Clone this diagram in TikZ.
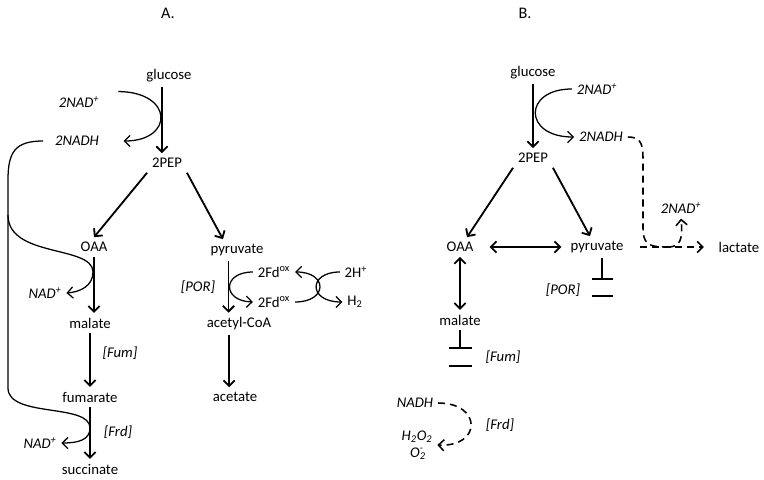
\documentclass[tikz,border=0pt]{standalone}
\usepackage{fontspec}
\setmainfont{Carlito}
\usetikzlibrary{arrows.meta}

\begin{document}
\begin{tikzpicture}[x=0.25mm, y=-0.25mm, >={Straight Barb[length=4pt,width=8pt]},
	font=\fontsize{10.5}{12}\selectfont,
	head/.style={font=\fontsize{11.5}{13}\selectfont},
	enz/.style={font=\fontsize{10.5}{12}\selectfont\itshape},
	rx/.style={->, line width=1.3pt},
	cof/.style={->, line width=0.9pt},
	dsh/.style={->, line width=1.1pt, dash pattern=on 5pt off 3.5pt},
	tee/.style={line width=1.4pt}]
	\useasboundingbox (0,0) rectangle (764,480);

	\node (TitA)	at (168, 13)	[head]	{A.};
	\node (GluA)	at (169, 76)		{glucose};
	\node (PepA)	at (167,163)		{2PEP};
	\node (NadA)	at ( 79,102)	[enz]	{2NAD\textsuperscript{+}};
	\node (NadhA)	at ( 77,141)	[enz]	{2NADH};
	\node (OaaA)	at ( 94,247)		{OAA};
	\node (NadB)	at ( 45,293)	[enz]	{NAD\textsuperscript{+}};
	\node (MalA)	at ( 90,323)		{malate};
	\node (FumA)	at ( 90,397)		{fumarate};
	\node (SucA)	at ( 90,469)		{succinate};
	\node (NadC)	at ( 40,443)	[enz]	{NAD\textsuperscript{+}};
	\node (FumEA)	at (120,353)	[enz]	{[Fum]};
	\node (FrdEA)	at (118,432)	[enz]	{[Frd]};
	\node (PyrA)	at (237,250)		{pyruvate};
	\node (AcoA)	at (239,324)		{acetyl-CoA};
	\node (AceA)	at (235,397)		{acetate};
	\node (PorEA)	at (198,287)	[enz]	{[POR]};
	\node (FdA)	at (274,272)		{2Fd\textsuperscript{ox}};
	\node (FdB)	at (274,302)		{2Fd\textsuperscript{ox}};
	\node (HA)	at (356,272)		{2H\textsuperscript{+}};
	\node (HtwoA)	at (355,302)		{H\textsubscript{2}};

	\draw[rx] ([xshift=-5pt]GluA.south) -- ([xshift=-5pt]GluA.south |- PepA.north);
	\draw[rx] (PepA.south west) -- (OaaA.north);
	\draw[rx] (PepA.south east) -- ([xshift=-10pt]PyrA.north);
	\draw[rx] (OaaA.south) -- (OaaA.south |- MalA.north);
	\draw[rx] (MalA.south) -- (MalA.south |- FumA.north);
	\draw[rx] (FumA.south) -- (FumA.south |- SucA.north);
	\draw[rx] ([xshift=-6pt]PyrA.south) -- ([xshift=-6pt]PyrA.south |- AcoA.north);
	\draw[rx] ([xshift=-7pt]AcoA.south) -- ([xshift=-7pt]AcoA.south |- AceA.north);

	\draw[cof, shorten <=10pt, shorten >=14pt] (NadA.north east) .. controls (174,92) and (174,141) .. (NadhA.east);
	\draw[cof, shorten <=5pt] (NadhA.west) .. controls (15,141) and (8,152) .. (8,180) -- (8,388)
		.. controls (8,418) and (90,403) .. (90,428) .. controls (90,440) and (78,443) .. (NadC.east);
	\coordinate (LB) at (8,215);
	\draw[cof] (LB) .. controls (8,258) and (93,245) .. (93,272) .. controls (93,286) and (80,292) .. (NadB.east);
	\draw[cof] (FdA.west) .. controls (222,272) and (222,301) .. (FdB.west);
	\draw[cof] (HA.west) .. controls (308,272) and (308,302) .. (HtwoA.west);
	\draw[cof] (FdB.east) .. controls (328,302) and (328,272) .. (FdA.east);

	\node (TitB)	at (525, 13)	[head]	{B.};
	\node (GluB)	at (533, 73)		{glucose};
	\node (PepB)	at (533,158)		{2PEP};
	\node (NadD)	at (597, 89)	[enz]	{2NAD\textsuperscript{+}};
	\node (NadhB)	at (601,137)	[enz]	{2NADH};
	\node (OaaB)	at (460,247)		{OAA};
	\node (PyrB)	at (597,247)		{pyruvate};
	\node (LacB)	at (739,247)		{lactate};
	\node (NadE)	at (681,208)	[enz]	{2NAD\textsuperscript{+}};
	\node (PorEB)	at (563,290)	[enz]	{[POR]};
	\node (MalB)	at (460,320)		{malate};
	\node (FumEB)	at (503,357)	[enz]	{[Fum]};
	\node (NadhC)	at (415,403)	[enz]	{NADH};
	\node (FrdEB)	at (500,425)	[enz]	{[Frd]};
	\node (RosB)	at (417,445)	[enz, align=center]	{H\textsubscript{2}O\textsubscript{2}\\O\rlap{\textsubscript{2}}\textsuperscript{-}};

	\draw[rx] (GluB) -- (PepB);
	\draw[rx] (PepB.south west) -- ([xshift=5pt]OaaB.north);
	\draw[rx] (PepB.south east) -- ([xshift=-5pt]PyrB.north);
	\draw[rx, <->, shorten <=8pt, shorten >=3pt] (OaaB) -- (PyrB);
	\draw[rx, <->] (OaaB.south) -- (OaaB.south |- MalB.north);
	\draw[tee] (PyrB.south) ++(5,0) -- ++(0,21) ++(-10.5,0) -- ++(21,0) ++(-21,17) -- ++(21,0);
	\draw[tee] (MalB.south) -- ++(0,18) ++(-11.5,0) -- ++(23,0) ++(-23,18) -- ++(23,0);

	\draw[cof] (NadD.west) .. controls (523,89) and (523,137) .. (NadhB.west);
	\draw[dsh, -] (NadhB.east) .. controls (640,137) and (643,143) .. (643,158) -- (643,228)
		.. controls (643,243) and (648,247) .. (665,247);
	\draw[dsh, shorten <=8pt, shorten >=7pt] (PyrB.east) -- (LacB.west);
	\coordinate (BrB) at (668,247);
	\draw[dsh] (BrB) .. controls (680,247) and (683,240) .. (NadE.south);
	\draw[dsh] (NadhC.east) .. controls (482,403) and (482,447) .. (RosB.east);
\end{tikzpicture}
\end{document}
